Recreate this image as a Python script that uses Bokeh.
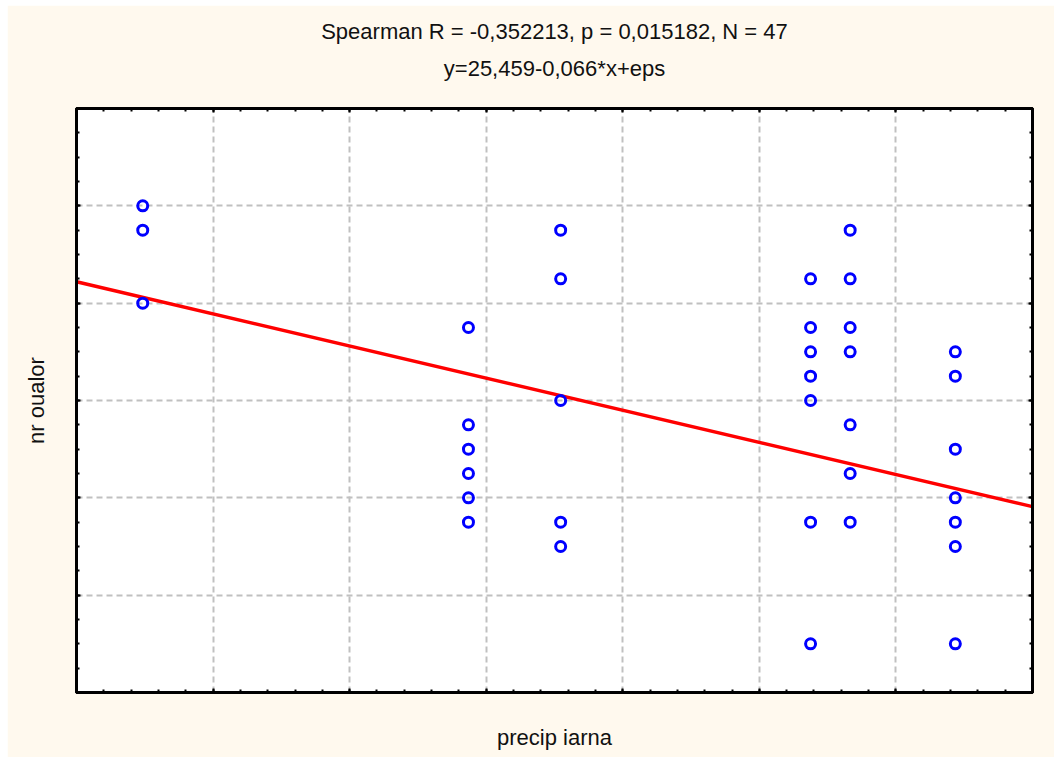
from bokeh.plotting import figure
from bokeh.models import (Range1d, LinearAxis, FixedTicker, SingleIntervalTicker,
                          CustomJSTickFormatter, ColumnDataSource, Grid)
from bokeh.embed import file_html
from bokeh.resources import INLINE

# winter precipitation (x) and number of eggs (y), one entry per plotted point
precip_iarna = [139.7, 139.7, 139.7,
                187.4, 187.4, 187.4, 187.4, 187.4, 187.4,
                200.9, 200.9, 200.9, 200.9, 200.9,
                237.5, 237.5, 237.5, 237.5, 237.5, 237.5, 237.5,
                243.3, 243.3, 243.3, 243.3, 243.3, 243.3, 243.3,
                258.7, 258.7, 258.7, 258.7, 258.7, 258.7, 258.7]
nr_oualor = [20, 19, 16,
             15, 11, 10, 9, 8, 7,
             19, 17, 12, 7, 6,
             17, 15, 14, 13, 12, 7, 2,
             19, 17, 15, 14, 11, 9, 7,
             14, 13, 10, 8, 7, 6, 2]

# fitted line y = a + b*x
fit_intercept = 25.459
fit_slope = -0.066

x_limits = (130, 270)
y_limits = (0, 24)
x_major = list(range(130, 271, 20))
x_minor = list(range(130, 271, 4))

title_line1 = "Spearman R = -0,352213, p = 0,015182, N = 47"
title_line2 = "y=25,459-0,066*x+eps"
x_label = "precip iarna"
y_label = "nr oualor"

FONT = "Liberation Sans"
FONT_SIZE = "22px"
CREAM = "#FFF9EE"

p = figure(width=1047, height=752, output_backend="svg", toolbar_location=None,
           x_range=Range1d(*x_limits), y_range=Range1d(*y_limits),
           x_axis_location=None, y_axis_location=None,
           min_border_left=69, min_border_right=22,
           min_border_top=103, min_border_bottom=65)
p.margin = (5, 0, 0, 7)
p.background_fill_color = "white"
p.border_fill_color = CREAM
p.outline_line_color = "black"
p.outline_line_width = 3
for g in p.grid:
    g.visible = False


def make_axis(ticker, label=None, standoff=5):
    ax = LinearAxis(ticker=ticker, formatter=CustomJSTickFormatter(code="return ''"))
    ax.major_label_text_font_size = "0px"
    ax.major_tick_in = 4
    ax.major_tick_out = 0
    ax.minor_tick_in = 3
    ax.minor_tick_out = 0
    ax.major_tick_line_width = 2
    ax.minor_tick_line_width = 2
    ax.axis_line_width = 3
    ax.axis_line_color = "black"
    if label:
        ax.axis_label = label
        ax.axis_label_text_font = FONT
        ax.axis_label_text_font_size = FONT_SIZE
        ax.axis_label_text_font_style = "normal"
        ax.axis_label_text_color = "#111111"
        ax.axis_label_standoff = standoff
    return ax


xt = FixedTicker(ticks=x_major, minor_ticks=x_minor)
yt = SingleIntervalTicker(interval=4, num_minor_ticks=4)

p.add_layout(make_axis(xt, x_label, 32), "below")
p.add_layout(make_axis(yt, y_label, 28), "left")
# the top axis carries the fitted equation as its label
p.add_layout(make_axis(xt, title_line2, 28), "above")
p.add_layout(make_axis(yt), "right")

# dashed grid
p.add_layout(Grid(dimension=0, ticker=xt, grid_line_color="#C0C0C0",
                  grid_line_width=2, grid_line_dash="6 4"))
p.add_layout(Grid(dimension=1, ticker=yt, grid_line_color="#C0C0C0",
                  grid_line_width=2, grid_line_dash="6 4"))

p.title.text = title_line1
p.title.align = "center"
p.title.text_font = FONT
p.title.text_font_size = FONT_SIZE
p.title.text_font_style = "normal"
p.title.text_color = "#111111"
p.title.standoff = 17

# regression line across the x range
fx = list(x_limits)
fy = [fit_intercept + fit_slope * v for v in fx]
p.line(fx, fy, line_color="#FF0000", line_width=3.5)

src = ColumnDataSource(dict(x=precip_iarna, y=nr_oualor))
p.scatter("x", "y", source=src, marker="circle", size=10, fill_color=None,
          line_color="#0000FF", line_width=3)

open("out.html", "w").write(file_html(p, INLINE))
